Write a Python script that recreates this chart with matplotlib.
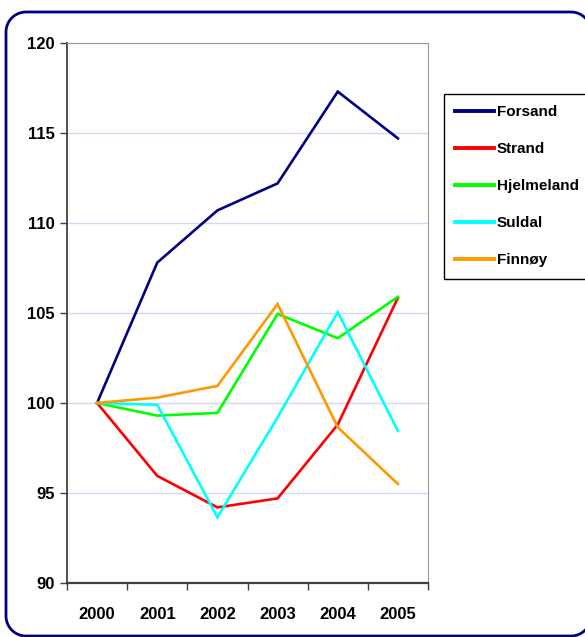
import matplotlib
matplotlib.use("Agg")
import matplotlib.pyplot as plt
import numpy as np
from matplotlib.ticker import FixedLocator

# ----- Data -----
YEARS = ["2000", "2001", "2002", "2003", "2004", "2005"]
FORSAND = [100, 107.8, 110.7, 112.2, 117.3, 114.7]
STRAND = [100, 95.95, 94.2, 94.7, 98.8, 105.85]
HJELMELAND = [100, 99.3, 99.45, 104.95, 103.6, 105.9]
SULDAL = [100, 99.9, 93.65, 99.2, 105.05, 98.45]
FINNOY = [100, 100.3, 100.95, 105.5, 98.65, 95.5]

SERIES = [
    ("Forsand", FORSAND, "#000080"),
    ("Strand", STRAND, "#ff0000"),
    ("Hjelmeland", HJELMELAND, "#00ff00"),
    ("Suldal", SULDAL, "#00ffff"),
    ("Finnøy", FINNOY, "#ff9900"),
]
# ----------------

plt.rcParams["font.family"] = ["Liberation Sans", "DejaVu Sans"]
plt.rcParams["font.weight"] = "bold"

W, H = 585, 637
fig = plt.figure(figsize=(W / 100, H / 100), dpi=100)


def rounded_outline(x0, y0, x1, y1, r):
    # corners of a rounded rectangle in pixel coords (y pointing down)
    pts = []
    for cx, cy, a0 in [(x1 - r, y0 + r, -90), (x1 - r, y1 - r, 0),
                       (x0 + r, y1 - r, 90), (x0 + r, y0 + r, 180)]:
        t = np.radians(np.linspace(a0, a0 + 90, 20))
        pts.append(np.column_stack([cx + r * np.cos(t), cy + r * np.sin(t)]))
    pts = np.vstack(pts + [pts[0][:1]])
    return pts[:, 0], pts[:, 1]


# navy frame, its right side runs off the canvas
bg = fig.add_axes([0, 0, 1, 1])
bg.set_xlim(0, W)
bg.set_ylim(H, 0)
bg.axis("off")
bx, by = rounded_outline(6, 12, 591, 636, 20)
bg.plot(bx, by, color="#000080", linewidth=2.0, solid_capstyle="butt")

ax = fig.add_axes([67 / W, 1 - 583 / H, 361 / W, 540 / H])
x = list(range(len(YEARS)))
for name, vals, color in SERIES:
    ax.plot(x, vals, color=color, linewidth=1.9, label=name,
            solid_joinstyle="miter")

ax.set_xlim(-0.5, len(YEARS) - 0.5)
ax.set_ylim(90, 120)
ax.set_yticks(range(90, 121, 5))
ax.set_xticks(x)
ax.set_xticklabels(YEARS)
ax.xaxis.set_minor_locator(FixedLocator([i - 0.5 for i in range(len(YEARS) + 1)]))
ax.tick_params(axis="x", which="major", length=0, pad=17, labelsize=12)
ax.tick_params(axis="x", which="minor", length=5, width=1, color="#404040", direction="out")
ax.tick_params(axis="y", length=5, width=1, color="#404040", direction="out",
               pad=4, labelsize=12)
for lbl in ax.get_xticklabels() + ax.get_yticklabels():
    lbl.set_fontweight("bold")

ax.yaxis.grid(True, color="#d6d6f5", linewidth=1)
ax.set_axisbelow(True)
ax.spines["left"].set_color("#404040")
ax.spines["bottom"].set_color("#404040")
ax.spines["left"].set_linewidth(1.3)
ax.spines["bottom"].set_linewidth(1.6)
ax.spines["top"].set_color("#999999")
ax.spines["right"].set_color("#999999")

leg = fig.legend(loc="upper left", bbox_to_anchor=(444 / W, 1 - 94 / H),
                 fancybox=False, edgecolor="black", framealpha=1,
                 prop={"weight": "bold", "size": 11},
                 handlelength=2.5, handletextpad=0.2, labelspacing=1.5,
                 borderpad=0.75, borderaxespad=0)
leg.get_frame().set_linewidth(1.0)
for line in leg.get_lines():
    line.set_linewidth(2.8)

fig.savefig("out.png", dpi=100)
